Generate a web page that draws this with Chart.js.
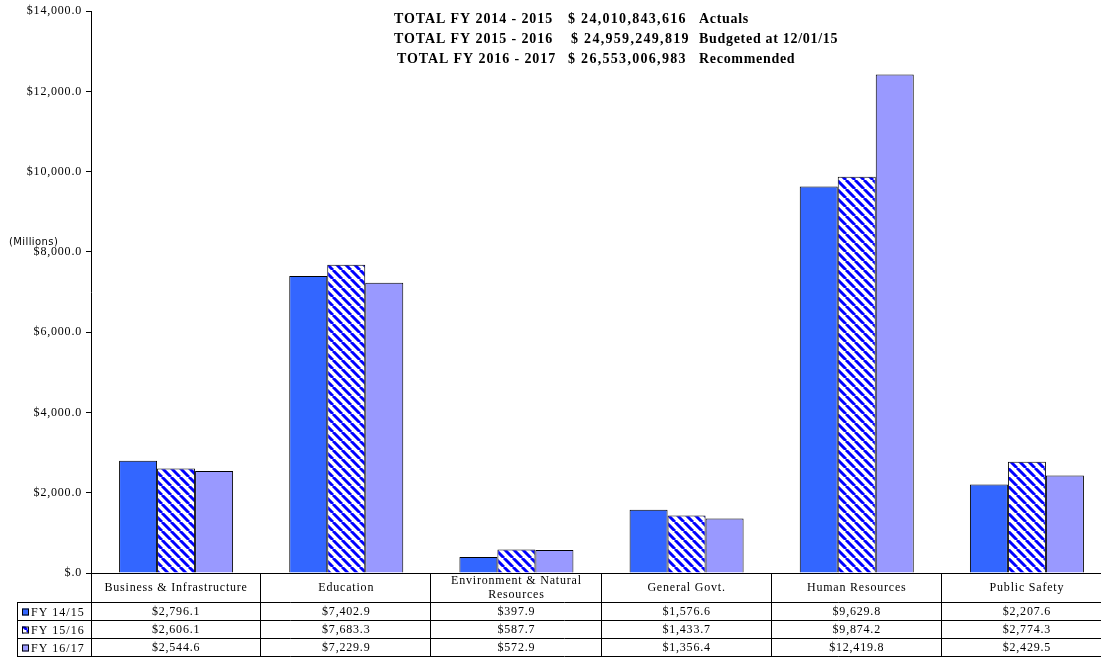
<!DOCTYPE html>
<html>
<head>
<meta charset="utf-8">
<script src="https://cdn.jsdelivr.net/npm/chart.js@4"></script>
<style>
  html, body { margin: 0; padding: 0; background: #fff; overflow: hidden; }
  #budgetChart { display: block; }
</style>
</head>
<body>
<canvas id="budgetChart" width="1112" height="658" style="width:1112px;height:658px"></canvas>
<script>
// categories + series
const categories = ['Business & Infrastructure', 'Education', 'Environment & Natural Resources', 'General Govt.', 'Human Resources', 'Public Safety']
const series_labels = ['FY 14/15', 'FY 15/16', 'FY 16/17']
const fy_14_15 = [2796.1, 7402.9, 397.9, 1576.6, 9629.8, 2207.6]
const fy_15_16 = [2606.1, 7683.3, 587.7, 1433.7, 9874.2, 2774.3]
const fy_16_17 = [2544.6, 7229.9, 572.9, 1356.4, 12419.8, 2429.5]
const y_max = 14000
const y_step = 2000

const title_rows = [
  ['TOTAL FY 2014 - 2015', '$ 24,010,843,616', 'Actuals'],
  ['TOTAL FY 2015 - 2016', '$ 24,959,249,819', 'Budgeted at 12/01/15'],
  ['TOTAL FY 2016 - 2017', '$ 26,553,006,983', 'Recommended']
]

const SERIF = '"Liberation Serif", "Times New Roman", serif'

// hatched fill for FY 15/16
function makeHatch(){
  const size = 9
  const c = document.createElement('canvas')
  c.width = size
  c.height = size
  const g = c.getContext('2d')
  g.fillStyle = '#ffffff'
  g.fillRect(0, 0, size, size)
  g.strokeStyle = '#0000ff'
  g.lineWidth = 3
  g.beginPath()
  for (const k of [-size, 0, size]) {
    g.moveTo(k, 0)
    g.lineTo(k + size, size)
  }
  g.stroke()
  return g.createPattern(c, 'repeat')
}

const hatch = makeHatch()
const series_colors = ['#3366ff', hatch, '#9999ff']
const series_data = [fy_14_15, fy_15_16, fy_16_17]

function money(v){
  if (v === 0) return '$.0'
  return '$' + v.toLocaleString('en-US', {minimumFractionDigits: 1, maximumFractionDigits: 1})
}

function wrapText(ctx, text, maxWidth){
  const words = text.split(' ')
  const lines = []
  let line = ''
  words.forEach(w => {
    const test = line ? line + ' ' + w : w
    if (ctx.measureText(test).width > maxWidth && line) {
      lines.push(line)
      line = w
    } else {
      line = test
    }
  })
  lines.push(line)
  return lines
}

// title block + data table drawn under the plot
const tablePlugin = {
  id: 'tablePlugin',
  beforeDraw(chart){
    chart.ctx.letterSpacing = '0.8px'
  },
  afterDraw(chart){
    const ctx = chart.ctx
    const area = chart.chartArea
    const xs = chart.scales.x
    const n = categories.length
    const half = (xs.getPixelForValue(1) - xs.getPixelForValue(0)) / 2

    ctx.save()
    ctx.fillStyle = '#000'
    ctx.textBaseline = 'middle'

    // title
    ctx.font = 'bold 14px ' + SERIF
    ctx.textAlign = 'left'
    const colX = [[394, 568, 699], [394, 571, 699], [397, 568, 699]]
    const colSpacing = ['0.9px', '1.3px', '0.7px']
    title_rows.forEach((row, i) => {
      row.forEach((txt, j) => {
        ctx.letterSpacing = colSpacing[j]
        ctx.fillText(txt, colX[i][j], 19 + i * 20)
      })
    })

    // (Millions)
    ctx.font = '10px "DejaVu Sans", sans-serif'
    ctx.letterSpacing = '0.4px'
    ctx.fillText('(Millions)', 9, 242)

    // table grid
    const top = area.bottom
    const headH = 30
    const rowH = 18
    const bottom = top + headH + rowH * 3
    const keyLeft = 17
    ctx.strokeStyle = '#000'
    ctx.lineWidth = 1
    ctx.beginPath()
    ctx.moveTo(area.left, top + 0.5)
    ctx.lineTo(area.right, top + 0.5)
    for (let r = 0; r <= 3; r++) {
      const y = Math.round(top + headH + r * rowH) - 0.5
      ctx.moveTo(keyLeft, y)
      ctx.lineTo(area.right, y)
    }
    ctx.moveTo(keyLeft + 0.5, top + headH)
    ctx.lineTo(keyLeft + 0.5, bottom)
    ctx.moveTo(Math.round(area.left) + 0.5, top)
    ctx.lineTo(Math.round(area.left) + 0.5, bottom)
    for (let i = 0; i < n; i++) {
      const xr = Math.round(xs.getPixelForValue(i) + half) - 0.5
      ctx.moveTo(xr, top)
      ctx.lineTo(xr, bottom)
    }
    ctx.stroke()

    // category headers
    ctx.font = '12px ' + SERIF
    ctx.letterSpacing = '0.8px'
    ctx.textAlign = 'center'
    categories.forEach((cat, i) => {
      const cx = xs.getPixelForValue(i)
      const lines = wrapText(ctx, cat, half * 2 - 12)
      const mid = top + headH / 2
      lines.forEach((ln, k) => {
        ctx.fillText(ln, cx, mid + (k - (lines.length - 1) / 2) * 14)
      })
    })

    // values
    series_data.forEach((vals, r) => {
      const cy = top + headH + r * rowH + rowH / 2
      vals.forEach((v, i) => ctx.fillText(money(v), xs.getPixelForValue(i), cy))
    })

    // legend keys
    ctx.textAlign = 'left'
    ctx.letterSpacing = '1px'
    series_labels.forEach((lab, r) => {
      const cy = top + headH + r * rowH + rowH / 2
      ctx.fillStyle = series_colors[r]
      ctx.fillRect(22, cy - 3.5, 7, 7)
      ctx.strokeStyle = '#000'
      ctx.strokeRect(22.5, cy - 3, 6, 6)
      ctx.fillStyle = '#000'
      ctx.fillText(lab, 31, cy + 0.5)
    })

    ctx.restore()
  }
}

const ctx = document.getElementById('budgetChart').getContext('2d')

const chart = new Chart(ctx, {
  type: 'bar',
  data: {
    labels: categories,
    datasets: series_labels.map((lab, i) => ({
      label: lab,
      data: series_data[i],
      backgroundColor: series_colors[i],
      borderColor: '#000',
      borderWidth: 1,
      categoryPercentage: 0.67,
      barPercentage: 1.0
    }))
  },
  options: {
    responsive: false,
    animation: false,
    layout: {
      padding: {top: 11, bottom: 85, left: 0, right: 0}
    },
    plugins: {
      legend: {display: false},
      title: {display: false},
      tooltip: {enabled: false}
    },
    scales: {
      x: {
        display: false
      },
      y: {
        min: 0,
        max: y_max,
        afterFit(scale){ scale.width = 91 },
        ticks: {
          stepSize: y_step,
          color: '#000',
          padding: 4,
          font: {family: SERIF, size: 12},
          callback: v => money(v)
        },
        grid: {
          drawOnChartArea: false,
          tickLength: 5,
          tickColor: '#000',
          color: '#000'
        },
        border: {color: '#000', width: 1}
      }
    }
  },
  plugins: [tablePlugin]
})
</script>
</body>
</html>
